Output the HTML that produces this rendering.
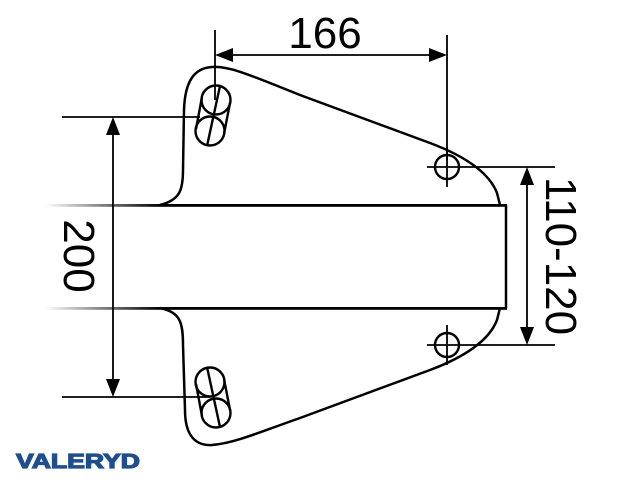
<!DOCTYPE html>
<html><head><style>body{margin:0;background:#fff}svg{display:block}</style></head><body>
<svg width="640" height="480" viewBox="0 0 640 480" xmlns="http://www.w3.org/2000/svg">
<defs>
<linearGradient id="fl" x1="0" x2="1"><stop offset="0" stop-color="#000" stop-opacity="0"/><stop offset="0.25" stop-color="#000"/></linearGradient>
</defs>
<g fill="none" stroke="#000" stroke-width="2.5">
<path d="M160 205 C180 200 183 190 183 170 L184 110 C185 80 195 68 212 67 C230 66 250 75 300 95 L430 143 C470 158 490 175 497 193 L500 205 M500 308 L497 320 C490 338 470 355 430 370 L300 418 C260 432 235 443 212 445 C195 446 185 435 185 410 L183 345 C183 322 180 312 160 308"/>
<path d="M506 205 L506 308"/>
</g>
<rect x="45" y="204" width="462" height="2.8" fill="url(#fl)"/>
<rect x="45" y="307" width="462" height="2.8" fill="url(#fl)"/>
<g fill="none" stroke="#000" stroke-width="2.4">
<circle cx="216" cy="100" r="14.5"/><circle cx="210" cy="131" r="14.5"/>
<path d="M202 97 L196 129 M230 103 L224 134 M220 86 L207 146"/>
<circle cx="210" cy="382" r="14.5"/><circle cx="216" cy="413" r="14.5"/>
<path d="M196 384 L202 416 M224 379 L230 410 M207 367 L220 427"/>
<circle cx="447" cy="167" r="12"/><circle cx="447" cy="345" r="12"/>
</g>
<g stroke="#000" stroke-width="1.8" fill="none">
<path d="M427 167 L467 167 M447 147 L447 187 M427 345 L467 345 M447 325 L447 365"/>
<path d="M215 30 L215 100 M447 35 L447 160 M230 55 L432 55"/>
<path d="M62 117 L200 117 M62 397 L210 397 M113 132 L113 382"/>
<path d="M467 167 L555 167 M467 345 L555 345 M527 182 L527 330"/>
</g>
<g fill="#000">
<path d="M215 55 L233 48 L233 62 Z M447 55 L429 48 L429 62 Z"/>
<path d="M113 117 L106 135 L120 135 Z M113 397 L106 379 L120 379 Z"/>
<path d="M527 167 L520 185 L534 185 Z M527 345 L520 327 L534 327 Z"/>
</g>
<g font-family="Liberation Sans, sans-serif" font-size="44" fill="#000">
<text x="325" y="48" text-anchor="middle">166</text>
<text transform="translate(64 256) rotate(90)" text-anchor="middle">200</text>
<text transform="translate(546 256) rotate(90)" text-anchor="middle">110-120</text>
</g>
<text x="16" y="468" font-family="Liberation Sans, sans-serif" font-weight="bold" font-size="20" fill="#1f4e8c" stroke="#1f4e8c" stroke-width="1.2" textLength="124" lengthAdjust="spacingAndGlyphs">VALERYD</text>
</svg>
</body></html>
